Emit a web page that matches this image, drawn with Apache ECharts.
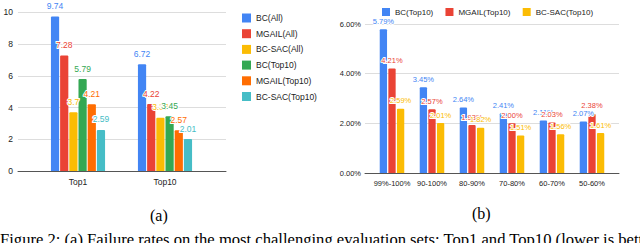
<!DOCTYPE html>
<html><head><meta charset="utf-8">
<script src="https://cdn.jsdelivr.net/npm/echarts@6/dist/echarts.min.js"></script>
<style>html,body{margin:0;padding:0;background:#fff;overflow:hidden;}#c{width:640px;height:243px;}</style>
</head><body><div id="c"></div>
<script>
// ---- Chart (a) data ----
const catsA = ['Top1', 'Top10'];
const bcAll = [9.74, 6.72];
const mgailAll = [7.28, 4.22];
const bcsacAll = [3.7, 3.36];
const bcTop10A = [5.79, 3.45];
const mgailTop10A = [4.21, 2.57];
const bcsacTop10A = [2.59, 2.01];
const ticksA = [0, 2, 4, 6, 8, 10];

// ---- Chart (b) data ----
const catsB = ['99%-100%', '90-100%', '80-90%', '70-80%', '60-70%', '50-60%'];
const bcTop10B = [5.79, 3.45, 2.64, 2.41, 2.11, 2.07];
const mgailTop10B = [4.21, 2.57, 1.93, 2.00, 2.03, 2.38];
const bcsacTop10B = [2.59, 2.01, 1.82, 1.51, 1.56, 1.61];
const ticksB = [0, 2, 4, 6];

const C = {blue:'#4285F4', red:'#EA4335', yellow:'#FBBC04', green:'#34A853', orange:'#FF6D01', cyan:'#46BDC6'};
const FONT = 'Liberation Sans';

function barA(name, data, color) {
  return {
    name, type: 'bar', data, xAxisIndex: 1, yAxisIndex: 1,
    barWidth: 8.2, barGap: '12%',
    itemStyle: {color, borderRadius: [1,1,0,0]},
    label: {show: true, position: 'top', distance: 6, color, fontFamily: FONT, fontSize: 8.5,
      textBorderColor: '#fff', textBorderWidth: 2}
  };
}
function barB(name, data, color) {
  return {
    name, type: 'bar', data, xAxisIndex: 3, yAxisIndex: 3,
    barWidth: 7.3, barGap: '18%',
    itemStyle: {color, borderRadius: [1,1,0,0]},
    label: {show: true, position: 'top', distance: 4, color, fontFamily: FONT, fontSize: 7.5,
      textBorderColor: '#fff', textBorderWidth: 2,
      formatter: p => p.value.toFixed(2) + '%'}
  };
}

const chart = echarts.init(document.getElementById('c'), null, {renderer: 'svg'});
chart.setOption({
  animation: false,
  textStyle: {fontFamily: FONT},
  grid: [
    {left: 18, width: 208, top: 12.3, height: 158.7},
    {left: 34.5, width: 174, top: 12.3, height: 158.7},
    {left: 365, width: 254, top: 24, height: 149},
    {left: 372, width: 240, top: 24, height: 149}
  ],
  legend: [
    {data: ['BC(All)', 'MGAIL(All)', 'BC-SAC(All)', 'BC(Top10)', 'MGAIL(Top10)', 'BC-SAC(Top10)'],
     orient: 'vertical', left: 237, top: 7, itemWidth: 9, itemHeight: 9, itemGap: 3.7,
     icon: 'rect', textStyle: {fontFamily: FONT, fontSize: 8.5, color: '#222', lineHeight: 12}},
    {data: ['BC(Top10) ', 'MGAIL(Top10) ', 'BC-SAC(Top10) '],
     orient: 'horizontal', left: 377, top: 3, itemWidth: 8, itemHeight: 8, itemGap: 10,
     icon: 'rect', textStyle: {fontFamily: FONT, fontSize: 8, color: '#222'}}
  ],
  xAxis: [
    {gridIndex: 0, type: 'category', data: catsA, axisLabel: {show: false}, axisTick: {show: false},
     axisLine: {lineStyle: {color: '#555', width: 1}}},
    {gridIndex: 1, type: 'category', data: catsA, axisTick: {show: false}, axisLine: {show: false},
     axisLabel: {color: '#222', fontSize: 8.5, fontFamily: FONT, margin: 6}},
    {gridIndex: 2, type: 'category', data: catsB, axisLabel: {show: false}, axisTick: {show: false},
     axisLine: {lineStyle: {color: '#555', width: 1}}},
    {gridIndex: 3, type: 'category', data: catsB, axisTick: {show: false}, axisLine: {show: false},
     axisLabel: {color: '#222', fontSize: 7.5, fontFamily: FONT, margin: 6, interval: 0}}
  ],
  yAxis: [
    {gridIndex: 0, type: 'value', min: ticksA[0], max: ticksA[ticksA.length-1], interval: ticksA[1]-ticksA[0],
     axisLabel: {color: '#222', fontSize: 8.5, fontFamily: FONT, margin: 5},
     splitLine: {lineStyle: {color: '#ddd'}}, axisLine: {show: false}, axisTick: {show: false}},
    {gridIndex: 1, type: 'value', min: ticksA[0], max: ticksA[ticksA.length-1], show: false, splitLine: {show: false}},
    {gridIndex: 2, type: 'value', min: ticksB[0], max: ticksB[ticksB.length-1], interval: ticksB[1]-ticksB[0],
     axisLabel: {color: '#222', fontSize: 7.5, fontFamily: FONT, margin: 4, formatter: v => v.toFixed(2) + '%'},
     splitLine: {lineStyle: {color: '#ddd'}}, axisLine: {show: false}, axisTick: {show: false}},
    {gridIndex: 3, type: 'value', min: ticksB[0], max: ticksB[ticksB.length-1], show: false, splitLine: {show: false}}
  ],
  series: [
    barA('BC(All)', bcAll, C.blue),
    barA('MGAIL(All)', mgailAll, C.red),
    barA('BC-SAC(All)', bcsacAll, C.yellow),
    barA('BC(Top10)', bcTop10A, C.green),
    barA('MGAIL(Top10)', mgailTop10A, C.orange),
    barA('BC-SAC(Top10)', bcsacTop10A, C.cyan),
    barB('BC(Top10) ', bcTop10B, C.blue),
    barB('MGAIL(Top10) ', mgailTop10B, C.red),
    barB('BC-SAC(Top10) ', bcsacTop10B, C.yellow)
  ],
  graphic: [
    {type: 'text', left: 150, top: 207, style: {text: '(a)', font: '16px "Liberation Serif"', fill: '#000'}},
    {type: 'text', left: 472, top: 205, style: {text: '(b)', font: '16px "Liberation Serif"', fill: '#000'}},
    {type: 'text', left: 0, top: 231, style: {text: 'Figure 2: (a) Failure rates on the most challenging evaluation sets: Top1 and Top10 (lower is better)', font: '16.6px "Liberation Serif"', fill: '#000'}}
  ]
});
</script></body></html>
